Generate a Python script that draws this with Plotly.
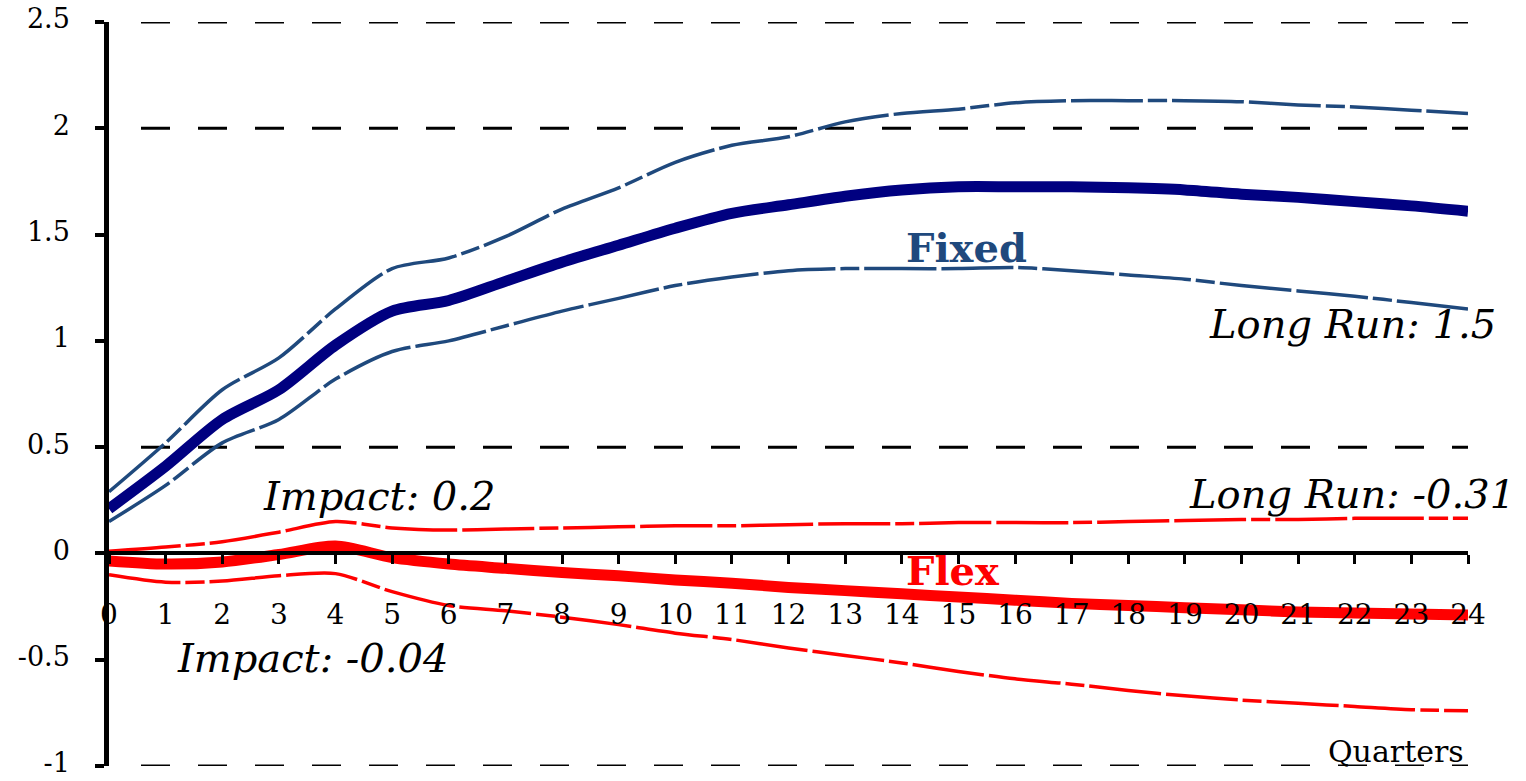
import plotly.graph_objects as go

quarters = list(range(25))
tick_labels_x = [str(q) for q in quarters]

y_ticks = [-1, -0.5, 0, 0.5, 1, 1.5, 2, 2.5]
y_tick_labels = ["-1", "-0.5", "0", "0.5", "1", "1.5", "2", "2.5"]
grid_levels = [2.5, 2, 0.5, -1]

fixed_mid = [0.21, 0.41, 0.63, 0.77, 0.98, 1.14, 1.19, 1.28, 1.37, 1.45, 1.53, 1.60, 1.64,
             1.68, 1.71, 1.725, 1.725, 1.725, 1.72, 1.71, 1.69, 1.675, 1.655, 1.635, 1.61]
fixed_hi = [0.29, 0.52, 0.77, 0.92, 1.15, 1.34, 1.39, 1.49, 1.62, 1.72, 1.84, 1.92, 1.96,
            2.03, 2.07, 2.09, 2.12, 2.13, 2.13, 2.13, 2.125, 2.11, 2.10, 2.085, 2.07]
fixed_lo = [0.15, 0.32, 0.52, 0.63, 0.82, 0.95, 1.00, 1.07, 1.14, 1.20, 1.26, 1.30, 1.33,
            1.34, 1.34, 1.34, 1.345, 1.33, 1.31, 1.29, 1.26, 1.235, 1.21, 1.18, 1.15]

flex_mid = [-0.035, -0.05, -0.04, -0.005, 0.035, -0.02, -0.05, -0.07, -0.09, -0.105, -0.125,
            -0.14, -0.16, -0.175, -0.19, -0.205, -0.22, -0.235, -0.245, -0.255, -0.265,
            -0.275, -0.28, -0.285, -0.29]
flex_hi = [0.01, 0.03, 0.055, 0.10, 0.15, 0.12, 0.11, 0.115, 0.12, 0.125, 0.13, 0.13, 0.135,
           0.14, 0.14, 0.145, 0.145, 0.145, 0.15, 0.155, 0.16, 0.16, 0.165, 0.165, 0.165]
flex_lo = [-0.10, -0.135, -0.13, -0.105, -0.095, -0.18, -0.245, -0.27, -0.30, -0.335, -0.375,
           -0.405, -0.445, -0.48, -0.515, -0.555, -0.59, -0.615, -0.645, -0.67, -0.69,
           -0.705, -0.72, -0.735, -0.74]

labels = [
    # text, x, y, colour
    ("<b>Fixed</b>", 15.14, 1.44, "#1F497D"),
    ("<i>Long Run: 1.5</i>", 21.96, 1.08, "black"),
    ("<i>Impact: 0.2</i>", 4.77, 0.27, "black"),
    ("<i>Long Run: -0.31</i>", 21.96, 0.28, "black"),
    ("<b>Flex</b>", 14.9, -0.08, "#FF0000"),
    ("<i>Impact: -0.04</i>", 3.59, -0.49, "black"),
    ("Quarters", 22.72, -0.93, "black"),
]

FONT = "DejaVu Serif"
BLUE_BAND = "#1F497D"
NAVY = "#000080"
RED = "#FF0000"
BAND_DASH = "72px,5px,19px,5px,72px,5px"

fig = go.Figure()

def add_line(y, color, width, dash="solid"):
    fig.add_trace(go.Scatter(
        x=quarters, y=y, mode="lines",
        line=dict(color=color, width=width, dash=dash, shape="spline", smoothing=0.8),
        showlegend=False, hoverinfo="skip"))

add_line(flex_hi, RED, 3.5, BAND_DASH)
add_line(flex_lo, RED, 3.5, BAND_DASH)
add_line(fixed_hi, BLUE_BAND, 3.5, BAND_DASH)
add_line(fixed_lo, BLUE_BAND, 3.5, BAND_DASH)
add_line(fixed_mid, NAVY, 11)
add_line(flex_mid, RED, 11)

grid_dash = "0px,32px," + ",".join(["29px,28px"] * 26)
for lvl in grid_levels:
    fig.add_shape(type="line", xref="x", yref="y", x0=quarters[0], x1=quarters[-1],
                  y0=lvl, y1=lvl, layer="below",
                  line=dict(color="black", width=3, dash=grid_dash))

for text, x, y, color in labels:
    fig.add_annotation(x=x, y=y, xref="x", yref="y", text=text, showarrow=False,
                       xanchor="center", yanchor="middle",
                       font=dict(family=FONT, size=40 if text != "Quarters" else 30,
                                 color=color))

zero_pos = (0 - y_ticks[0]) / (y_ticks[-1] - y_ticks[0])

fig.update_layout(
    width=1526, height=781,
    margin=dict(l=109, r=58, t=22, b=15, autoexpand=False),
    paper_bgcolor="white", plot_bgcolor="white",
    font=dict(family=FONT, color="black"),
    xaxis=dict(range=[quarters[0], quarters[-1]], tickvals=quarters, ticktext=tick_labels_x,
               ticks="outside", ticklen=9, tickwidth=3, tickcolor="black",
               showline=True, linewidth=3.5, linecolor="black", automargin=False,
               showgrid=False, zeroline=False, anchor="free", position=zero_pos,
               ticklabelstandoff=26, tickfont=dict(family=FONT, size=28, color="black")),
    yaxis=dict(range=[y_ticks[0], y_ticks[-1]], tickvals=y_ticks, ticktext=y_tick_labels,
               ticks="outside", ticklen=9, tickwidth=3.5, tickcolor="black",
               showline=True, linewidth=4.5, linecolor="black", automargin=False,
               showgrid=False, zeroline=False, ticklabelstandoff=20, ticklabelshift=-3,
               ticklabeloverflow="allow",
               tickfont=dict(family=FONT, size=27, color="black")),
)

fig.write_html("out.html", config={"displayModeBar": False},
               post_script="document.body.style.margin='0px';document.body.style.overflow='hidden';")
